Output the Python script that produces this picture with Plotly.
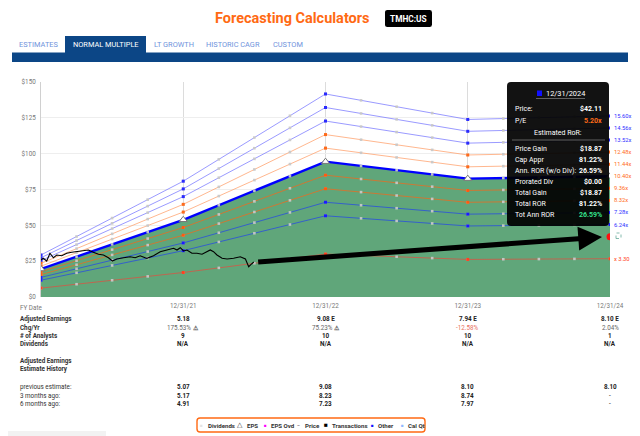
import numpy as np
import plotly.graph_objects as go

# ---------------- data ----------------
fy_t = [0, 1, 2, 3, 4]                     # years after 12/31/20
fy_labels = ["12/31/21", "12/31/22", "12/31/23", "12/31/24"]
eps = [1.88, 5.18, 9.08, 7.94, 8.10]
multiples = [15.60, 14.56, 13.52, 12.48, 11.44, 10.40, 9.36, 8.32, 7.28, 6.24, 3.30]
normal_pe = 10.40
current_pe = 5.20
target_price = 42.11

price_t = [0.000, 0.016, 0.040, 0.063, 0.087, 0.111, 0.146, 0.181, 0.216, 0.251,
           0.287, 0.333, 0.368, 0.404, 0.439, 0.474, 0.502, 0.533, 0.580, 0.627,
           0.662, 0.697, 0.732, 0.744, 0.791, 0.838, 0.885, 0.932, 0.956, 0.979,
           1.002, 1.026, 1.061, 1.096, 1.132, 1.167, 1.190, 1.213, 1.237, 1.273,
           1.308, 1.354, 1.401, 1.437, 1.460, 1.477, 1.496]
price = [25.8, 27.0, 25.1, 30.5, 27.4, 29.3, 28.8, 30.5, 31.2, 31.6,
         32.1, 32.8, 31.2, 29.8, 29.3, 27.4, 25.1, 26.5, 27.4, 28.1,
         27.4, 28.8, 27.4, 27.0, 28.8, 31.6, 32.8, 34.0, 32.8, 34.4,
         32.1, 32.8, 30.5, 30.5, 29.8, 31.6, 32.8, 31.6, 29.3, 27.0,
         26.5, 27.0, 28.1, 26.5, 21.1, 22.8, 24.4]

adj_earn = ["5.18", "9.08 E", "7.94 E", "8.10 E"]
chg_yr = ["175.53%", "75.23%", "-12.58%", "2.04%"]
analysts = ["9", "10", "10", "1"]
dividends = ["N/A", "N/A", "N/A", "N/A"]
prev_est = ["5.07", "9.08", "8.10", "8.10"]
est_3m = ["5.17", "8.23", "8.74", "-"]
est_6m = ["4.91", "7.23", "7.97", "-"]

tab_names = ["ESTIMATES", "NORMAL MULTIPLE", "LT GROWTH", "HISTORIC CAGR", "CUSTOM"]
legend_items = ["Dividends", "EPS", "EPS Ovd", "Price", "Transactions", "Other", "Cal Qt"]

tip_rows = [("Price Gain", "$18.87"), ("Cap Appr", "81.22%"), ("Ann. ROR (w/o Div):", "26.59%"),
            ("Prorated Div", "$0.00"), ("Total Gain", "$18.87"), ("Total ROR", "81.22%")]
tot_ann_ror = "26.59%"

# ---------------- layout helpers ----------------
W, H = 640, 436
L, R, T, B = 41, 30, 82, 139
PW, PH = W - L - R, H - T - B
FONT = "Roboto"


def px(X):
    return (X - L) / PW


def py(Y):
    return (H - B - Y) / PH


annotations = []
shapes = []


def txt(X, Y, s, size=6.3, color="#333", anchor="left", xref="paper", family=FONT):
    annotations.append(dict(x=px(X) if xref == "paper" else X, y=py(Y), xref=xref, yref="paper",
                            text=s, showarrow=False, xanchor=anchor, yanchor="middle",
                            font=dict(size=size, color=color, family=family)))


def rect(X0, Y0, X1, Y1, fill=None, line=None, lw=0, layer="above", dash=None):
    shapes.append(dict(type="rect", xref="paper", yref="paper", x0=px(X0), x1=px(X1),
                       y0=py(Y1), y1=py(Y0), fillcolor=fill or "rgba(0,0,0,0)",
                       line=dict(color=line or "rgba(0,0,0,0)", width=lw, dash=dash), layer=layer))


def rrect(X0, Y0, X1, Y1, r, fill=None, line=None, lw=0):
    def P(X, Y):
        return f"{px(X):.5f},{py(Y):.5f}"
    path = (f"M {P(X0 + r, Y0)} L {P(X1 - r, Y0)} Q {P(X1, Y0)} {P(X1, Y0 + r)} "
            f"L {P(X1, Y1 - r)} Q {P(X1, Y1)} {P(X1 - r, Y1)} L {P(X0 + r, Y1)} "
            f"Q {P(X0, Y1)} {P(X0, Y1 - r)} L {P(X0, Y0 + r)} Q {P(X0, Y0)} {P(X0 + r, Y0)} Z")
    shapes.append(dict(type="path", xref="paper", yref="paper", path=path,
                       fillcolor=fill or "rgba(0,0,0,0)",
                       line=dict(color=line or "rgba(0,0,0,0)", width=lw), layer="above"))


def hline(X0, X1, Y, color, w=1):
    shapes.append(dict(type="line", xref="paper", yref="paper", x0=px(X0), x1=px(X1),
                       y0=py(Y), y1=py(Y), line=dict(color=color, width=w), layer="above"))


# ---------------- traces ----------------
fig = go.Figure()
eps_arr = np.array(eps)
q_t = np.arange(0, 4.001, 0.25)

green = "rgb(96,166,122)"
fig.add_trace(go.Scatter(x=fy_t, y=eps_arr * normal_pe, mode="lines", fill="tozeroy",
                         fillcolor=green, line=dict(width=0), hoverinfo="skip"))

# faint year grid lines visible through the fill
for t in fy_t[1:4]:
    shapes.append(dict(type="line", xref="x", yref="y", x0=t, x1=t, y0=0,
                       y1=eps[t] * normal_pe, line=dict(color="rgba(215,225,220,0.45)", width=1),
                       layer="below"))

style = {
    15.60: ("rgba(120,120,255,0.75)", "#2a2aff", "#3030ff"),
    14.56: ("rgba(120,120,255,0.75)", "#2a2aff", "#3030ff"),
    13.52: ("rgba(120,120,255,0.75)", "#2a2aff", "#3030ff"),
    12.48: ("rgba(255,165,115,0.8)", "#ff6a1a", "#ff6a1a"),
    11.44: ("rgba(255,165,115,0.8)", "#ff6a1a", "#ff6a1a"),
    9.36: ("rgba(215,115,45,0.9)", "#ff5a10", "#ff6a1a"),
    8.32: ("rgba(215,115,45,0.9)", "#ff5a10", "#ff6a1a"),
    7.28: ("rgba(45,85,215,0.85)", "#1a1aff", "#3030ff"),
    6.24: ("rgba(45,85,215,0.85)", "#1a1aff", "#3030ff"),
    3.30: ("rgba(200,95,75,0.9)", "#ff4020", "#ff4020"),
}

for m in multiples:
    vals = eps_arr * m
    qv = np.interp(q_t, fy_t, vals)
    if m == normal_pe:
        continue
    lc, mc, _ = style[m]
    fig.add_trace(go.Scatter(x=fy_t, y=vals, mode="lines", line=dict(color=lc, width=1),
                             hoverinfo="skip"))
    fig.add_trace(go.Scatter(x=q_t, y=qv, mode="markers",
                             marker=dict(symbol="square", size=2.6, color="rgba(200,200,200,0.95)"),
                             hoverinfo="skip"))
    fig.add_trace(go.Scatter(x=fy_t, y=vals, mode="markers",
                             marker=dict(symbol="square", size=3, color=mc), hoverinfo="skip"))

# normal multiple thick line
nvals = eps_arr * normal_pe
fig.add_trace(go.Scatter(x=fy_t, y=nvals, mode="lines", line=dict(color="#0000ff", width=2.4),
                         hoverinfo="skip"))
fig.add_trace(go.Scatter(x=q_t, y=np.interp(q_t, fy_t, nvals), mode="markers",
                         marker=dict(symbol="square", size=2.6, color="rgba(200,200,200,0.95)"),
                         hoverinfo="skip"))
fig.add_trace(go.Scatter(x=fy_t, y=nvals, mode="markers",
                         marker=dict(symbol="triangle-up", size=7, color="white",
                                     line=dict(color="#777", width=1)), hoverinfo="skip"))

# price line
fig.add_trace(go.Scatter(x=price_t, y=price, mode="lines", line=dict(color="black", width=1.1),
                         hoverinfo="skip"))

# target dot
fig.add_trace(go.Scatter(x=[fy_t[-1]], y=[target_price], mode="markers",
                         marker=dict(size=7, color="#ff1010"), hoverinfo="skip"))

# arrow from last price to target
annotations.append(dict(x=fy_t[-1] - 0.056, y=target_price * 0.995, xref="x", yref="y",
                        ax=price_t[-1] + 0.02, ay=price[-1], axref="x", ayref="y",
                        showarrow=True, arrowhead=2, arrowsize=0.95, arrowwidth=5,
                        arrowcolor="black", text="", standoff=0))

# ---------------- header ----------------
txt(292, 18, "<b>Forecasting Calculators</b>", size=14.5, color="#ff6a13", anchor="center")
rrect(385, 10, 432, 27, 2.5, fill="black")
txt(408.5, 18.5, "<b>TMHC:US</b>", size=8.3, color="white", anchor="center")

rect(12, 52.5, 628, 62, fill="#0c4686")
rect(65, 36, 146, 53, fill="#0c4686")
tab_x = [38, 105.5, 173.5, 232.5, 288]
for name, X in zip(tab_names, tab_x):
    c = "white" if name == "NORMAL MULTIPLE" else "#6f93dc"
    txt(X, 44.5, name, size=7.4, color=c, anchor="center")

# ---------------- tooltip ----------------
rrect(507, 82, 609, 226, 4, fill="rgba(0,0,0,0.93)")
rect(537, 90.5, 542, 96, fill="#1010ff")
txt(544, 93.5, "12/31/2024", size=7.4, color="white", anchor="left")
hline(536, 585, 98.5, "#777", 0.8)
txt(513, 109.3, "Price:", size=7, color="white")
txt(604, 109.3, f"<b>${target_price:.2f}</b>", size=7, color="white", anchor="right")
txt(513, 120.5, "P/E", size=7, color="white")
txt(604, 120.5, f"<b>{current_pe:.2f}x</b>", size=7, color="#ff6a1a", anchor="right")
txt(558, 133.3, "Estimated RoR:", size=7, color="white", anchor="center")
hline(512, 605, 140, "#777", 0.8)
for i, (lab, val) in enumerate(tip_rows):
    Y = 149.3 + i * 10.9
    txt(513, Y, lab, size=7, color="white")
    txt(604, Y, f"<b>{val}</b>", size=7, color="white", anchor="right")
txt(513, 214.7, "Tot Ann ROR", size=7, color="white")
txt(604, 214.7, f"<b>{tot_ann_ror}</b>", size=7, color="#35e08a", anchor="right")

# ---------------- right-side multiple labels ----------------
for m in multiples:
    yv = m * eps[-1]
    Y = (H - B) - yv / 150 * PH
    _, _, tc = style.get(m, ("", "", "#ff6a1a"))
    label = f"x {m:.2f}" if m == 3.30 else f"{m:.2f}x"
    txt(612, Y, label, size=5.8, color=tc, anchor="left")
rect(616, 233, 621, 238.5, line="#6a9", lw=0.8, dash="dot")

# ---------------- table ----------------
txt(18, 307.5, "FY Date", size=6.3, color="#777")
rows = [(319, "Adjusted Earnings", adj_earn, True),
        (327.6, "Chg/Yr", chg_yr, False),
        (336, "# of Analysts", analysts, True),
        (344.3, "Dividends", dividends, True)]
for Y, lab, vals, bold in rows:
    txt(18, Y, f"<b>{lab}</b>", size=6.3, color="#333")
    for t, v in zip(fy_t[1:], vals):
        if lab == "Chg/Yr":
            num = float(v.strip("%"))
            col = "#e8705e" if num < 0 else "#666"
            s = f"{v} <b>⚠</b>" if num > 50 else v
            txt(t, Y, s, size=6.3, color=col, anchor="center", xref="x")
        else:
            txt(t, Y, f"<b>{v}</b>", size=6.3, color="#222", anchor="center", xref="x")

txt(18, 361, "<b>Adjusted Earnings</b>", size=6.3, color="#333")
txt(18, 369.3, "<b>Estimate History</b>", size=6.3, color="#333")
for Y, lab, vals in [(387, "previous estimate:", prev_est), (395.5, "3 months ago:", est_3m),
                     (404, "6 months ago:", est_6m)]:
    txt(18, Y, lab, size=6.3, color="#333")
    for t, v in zip(fy_t[1:], vals):
        txt(t, Y, f"<b>{v}</b>" if v != "-" else v, size=6.3, color="#222", anchor="center", xref="x")

# ---------------- legend box ----------------
rrect(197, 418, 425, 432, 3, line="#ff6a13", lw=1.4)
leg_mark = [("■", "#e4e4e4", 201.5), ("△", "#333", 240), ("■", "#ff00ff", 265),
            ("–", "#333", 298), ("■", "black", 326), ("■", "#1010ff", 372), ("■", "#8fb8ff", 402)]
leg_text_x = [206, 245, 268.5, 302.5, 330, 376, 405.5]
for (sym, col, mx), name, tx in zip(leg_mark, legend_items, leg_text_x):
    sz = 6.5 if name in ("Transactions", "EPS") else 4.5
    txt(mx, 425, sym, size=sz, color=col, anchor="center")
    txt(tx, 425, f"<b>{name}</b>", size=6.1, color="#333")
rect(8, 431, 106, 436, fill="#f2f2f2", layer="below")

# ---------------- layout ----------------
fig.update_layout(
    width=W, height=H, margin=dict(l=L, r=R, t=T, b=B),
    paper_bgcolor="white", plot_bgcolor="white", showlegend=False,
    font=dict(family=FONT),
    xaxis=dict(range=[0, 4], tickvals=fy_t[1:], ticktext=fy_labels, showgrid=True,
               gridcolor="#dcdcdc", gridwidth=1, zeroline=False, showline=False,
               tickfont=dict(size=6.3, color="#777"), ticks="", ticklabelstandoff=4,
               fixedrange=True),
    yaxis=dict(range=[0, 150], tickvals=list(range(0, 151, 25)),
               ticktext=[f"${v}" for v in range(0, 151, 25)], showgrid=True,
               gridcolor="#eeeeee", zeroline=False, showline=True, linecolor="#d0d0d0",
               tickfont=dict(size=6.3, color="#777"), ticks="", ticklabelstandoff=3,
               fixedrange=True),
    annotations=annotations, shapes=shapes,
)

fig.write_html("out.html", config={"displayModeBar": False},
               post_script="document.body.style.margin='0px';document.body.style.overflow='hidden';")
